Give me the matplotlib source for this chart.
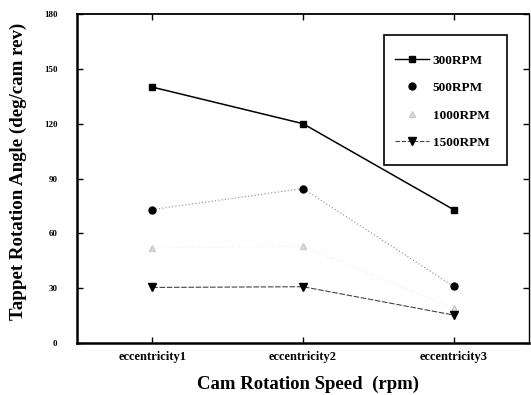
import matplotlib
matplotlib.use("Agg")
import matplotlib.pyplot as plt
from matplotlib.lines import Line2D
from matplotlib.patches import Rectangle

categories = ["eccentricity1", "eccentricity2", "eccentricity3"]
rpm_300 = [140, 120, 73]
rpm_500 = [73, 84.5, 31]
rpm_1000 = [52, 53, 19]
rpm_1500 = [30.4, 30.8, 15.3]
y_ticks = [0, 30, 60, 90, 120, 150, 180]
labels = ["300RPM", "500RPM", "1000RPM", "1500RPM"]

plt.rcParams["font.family"] = ["Liberation Serif", "DejaVu Serif"]
plt.rcParams["font.weight"] = "bold"

fig = plt.figure(figsize=(5.31, 3.95), dpi=100)
ax = fig.add_axes([0.145, 0.1316, 0.851, 0.833])

x = list(range(len(categories)))
ax.plot(x, rpm_300, color="black", lw=1.1, marker="s", ms=5)
ax.plot(x, rpm_500, color="#8a8a8a", lw=0.8, ls=(0, (1, 2)), marker="o", ms=5,
        mfc="black", mec="black")
ax.plot(x, rpm_1000, color="#e2e2e2", lw=0.6, ls=(0, (1, 3)), marker="^", ms=4,
        mfc="#dddddd", mec="#cccccc")
ax.plot(x, rpm_1500, color="#444444", lw=0.8, ls=(0, (5, 1.5)), marker="v", ms=6,
        mfc="black", mec="black")

ax.set_xlim(-0.5, 2.5)
ax.set_ylim(0, 180)
ax.set_xticks(x)
ax.set_xticklabels(categories, fontsize=9, fontweight="bold")
ax.set_yticks(y_ticks)
ax.set_yticklabels([str(t) for t in y_ticks], fontsize=6.5, fontweight="bold")
ax.tick_params(direction="in", top=True, right=True, length=4, width=1)
ax.tick_params(axis="x", pad=6)
ax.tick_params(axis="y", pad=14, labelright=False)

for side, w in [("left", 1.8), ("bottom", 1.8), ("top", 1.3), ("right", 1.0)]:
    ax.spines[side].set_linewidth(w)

ax.set_xlabel("Cam Rotation Speed  (rpm)", fontsize=13.5, fontweight="bold", labelpad=9)
ax.set_ylabel("Tappet Rotation Angle (deg/cam rev)", fontsize=13.6, fontweight="bold", labelpad=12)
ax.xaxis.label.set_x(0.512)
ax.yaxis.label.set_y(0.521)

# legend frame drawn separately, legend itself frameless
ax.add_patch(Rectangle((0.679, 0.541), 0.272, 0.395, transform=ax.transAxes,
                       fill=False, edgecolor="black", lw=1.2, zorder=3))
handles = [
    Line2D([], [], color="black", lw=1.0, marker="s", ms=5),
    Line2D([], [], ls="none", marker="o", ms=5, color="black"),
    Line2D([], [], ls="none", marker="^", ms=4, mfc="#dddddd", mec="#cccccc"),
    Line2D([], [], color="#444444", lw=0.8, ls=(0, (4, 1.5)), marker="v", ms=6,
           mfc="black", mec="black"),
]
leg = ax.legend(handles, labels, loc="upper left", bbox_to_anchor=(0.704, 0.877),
                fontsize=9.5, frameon=False, borderpad=0, labelspacing=1.15,
                handlelength=2.6, handletextpad=0.25, borderaxespad=0)
leg.set_zorder(4)
for t in leg.get_texts():
    t.set_fontweight("bold")

fig.savefig("out.png", dpi=100)
